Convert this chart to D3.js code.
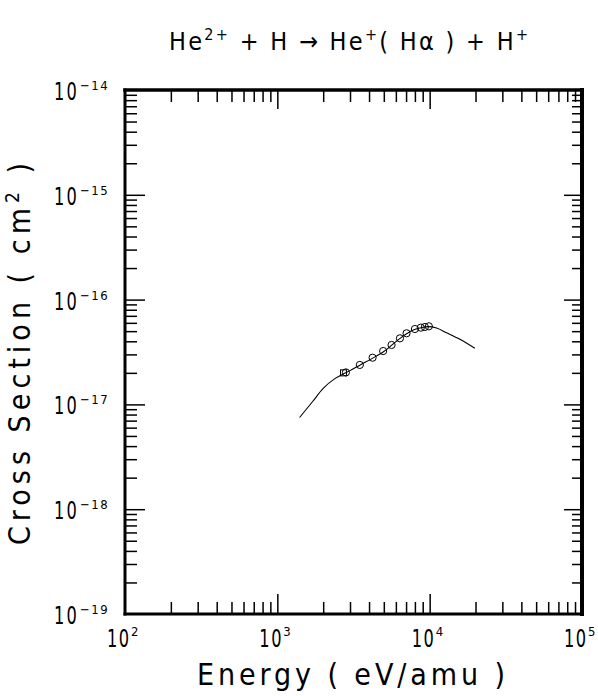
<!DOCTYPE html>
<html>
<head>
<meta charset="utf-8">
<script src="https://cdn.jsdelivr.net/npm/d3@7"></script>
<style>
  body { margin: 0; background: #fff; }
  text { font-family: "Liberation Sans Narrow", "DejaVu Sans Condensed", "Liberation Sans", sans-serif; fill: #000; }
</style>
</head>
<body>
<div id="chart"></div>
<script>
// fitted curve (energy in eV/amu, cross section in cm^2)
const curveEnergy = [1400, 1700, 2000, 2400, 2700, 3000, 3500, 4200, 5000, 6400, 7800, 8600, 9800, 11100, 12900, 15800, 19800];
const curveSigma = [7.5e-18, 1.06e-17, 1.42e-17, 1.77e-17, 1.95e-17, 2.1e-17, 2.38e-17, 2.75e-17, 3.2e-17, 4.27e-17, 5.13e-17, 5.35e-17, 5.52e-17, 5.35e-17, 4.83e-17, 4.18e-17, 3.43e-17];

// measured points (circles)
const pointEnergy = [2820, 3480, 4220, 4950, 5620, 6380, 7050, 8000, 8750, 9300, 9880];
const pointSigma = [2.02e-17, 2.38e-17, 2.79e-17, 3.23e-17, 3.69e-17, 4.27e-17, 4.77e-17, 5.24e-17, 5.40e-17, 5.48e-17, 5.56e-17];

// second data set (square)
const squareEnergy = [2720];
const squareSigma = [2.0e-17];

const xDecades = [2, 3, 4, 5];
const yDecades = [-14, -15, -16, -17, -18, -19];

const width = 598, height = 696;
const margin = { top: 90, right: 16, bottom: 82, left: 125 };

const svg = d3.select("#chart")
    .append("svg")
    .attr("width", width)
    .attr("height", height);

const x = d3.scaleLog()
    .domain([1e2, 1e5])
    .range([margin.left, width - margin.right]);

const y = d3.scaleLog()
    .domain([1e-19, 1e-14])
    .range([height - margin.bottom, margin.top]);

const [x0, x1] = x.range();
const [y0, y1] = [y(1e-14), y(1e-19)];

// tick values
const xMinor = [], yMinor = [];
for (let e = 2; e < 5; e++) for (let m = 2; m <= 9; m++) xMinor.push(m * Math.pow(10, e));
for (let e = -19; e < -14; e++) for (let m = 2; m <= 9; m++) yMinor.push(m * Math.pow(10, e));
const xMajor = [1e3, 1e4];
const yMajor = [1e-18, 1e-17, 1e-16, 1e-15];

const addTicks = (axis, values, size, transform) => {
    const g = svg.append("g")
        .attr("transform", transform)
        .call(axis.tickValues(values).tickSize(size).tickFormat(""));
    g.select(".domain").remove();
    g.selectAll(".tick line").attr("stroke", "#000").attr("stroke-width", 1.5);
};

// bottom (ticks up), top (ticks down)
addTicks(d3.axisBottom(x), xMinor, -12, `translate(0,${y1})`);
addTicks(d3.axisBottom(x), xMajor, -20, `translate(0,${y1})`);
addTicks(d3.axisTop(x), xMinor, -12, `translate(0,${y0})`);
addTicks(d3.axisTop(x), xMajor, -19, `translate(0,${y0})`);
// left (ticks right), right (ticks left)
addTicks(d3.axisLeft(y), yMinor, -12, `translate(${x0},0)`);
addTicks(d3.axisLeft(y), yMajor, -20, `translate(${x0},0)`);
addTicks(d3.axisRight(y), yMinor, -10, `translate(${x1},0)`);
addTicks(d3.axisRight(y), yMajor, -18, `translate(${x1},0)`);

// frame
const frame = svg.append("g").attr("stroke", "#000").attr("stroke-linecap", "square");
frame.append("line").attr("x1", x0).attr("x2", x1).attr("y1", y0).attr("y2", y0).attr("stroke-width", 3.5);
frame.append("line").attr("x1", x0).attr("x2", x1).attr("y1", y1).attr("y2", y1).attr("stroke-width", 3);
frame.append("line").attr("x1", x0).attr("x2", x0).attr("y1", y0).attr("y2", y1).attr("stroke-width", 3);
frame.append("line").attr("x1", x1).attr("x2", x1).attr("y1", y0).attr("y2", y1).attr("stroke-width", 4);

// x tick labels
xDecades.forEach(e => {
    const px = x(Math.pow(10, e));
    svg.append("text")
        .attr("x", px - 18).attr("y", y1 + 33)
        .attr("font-size", 24)
        .attr("letter-spacing", 2)
        .attr("transform", `translate(${px - 18},0) scale(0.75,1) translate(${-(px - 18)},0)`)
        .text("10");
    svg.append("text")
        .attr("x", px + 6).attr("y", y1 + 22)
        .attr("font-size", 13)
        .text(e);
});

// y tick labels
yDecades.forEach(e => {
    const py = y(Math.pow(10, e));
    svg.append("text")
        .attr("x", 54).attr("y", py + 10)
        .attr("font-size", 24)
        .attr("letter-spacing", 3)
        .attr("transform", "translate(54,0) scale(0.75,1) translate(-54,0)")
        .text("10");
    svg.append("text")
        .attr("x", 80).attr("y", py)
        .attr("font-size", 13)
        .attr("letter-spacing", 1.5)
        .text("\u2212" + Math.abs(e));
});

// title
const title = svg.append("text")
    .attr("x", 169).attr("y", 50)
    .attr("font-size", 25)
    .attr("textLength", 359).attr("lengthAdjust", "spacing");
title.append("tspan").text("He");
title.append("tspan").attr("dy", -10).attr("font-size", 16).text("2+");
title.append("tspan").attr("dy", 10).text(" + H \u2192 He");
title.append("tspan").attr("dy", -10).attr("font-size", 16).text("+");
title.append("tspan").attr("dy", 10).text("( H\u03b1 ) + H");
title.append("tspan").attr("dy", -10).attr("font-size", 16).text("+");

// x axis label
svg.append("text")
    .attr("x", 197).attr("y", 685)
    .attr("font-size", 30)
    .attr("textLength", 308).attr("lengthAdjust", "spacing")
    .text("Energy ( eV/amu )");

// y axis label
const ylab = svg.append("text")
    .attr("transform", "translate(30,545) rotate(-90)")
    .attr("font-size", 30)
    .attr("textLength", 382).attr("lengthAdjust", "spacing");
ylab.append("tspan").text("Cross Section ( cm");
ylab.append("tspan").attr("dy", -11).attr("font-size", 19).text("2");
ylab.append("tspan").attr("dy", 11).text(" )");

// curve
const curveData = curveEnergy.map((e, i) => ({ e, s: curveSigma[i] }));
const line = d3.line()
    .x(d => x(d.e))
    .y(d => y(d.s))
    .curve(d3.curveMonotoneX);

svg.append("path")
    .attr("d", line(curveData))
    .attr("fill", "none")
    .attr("stroke", "#000")
    .attr("stroke-width", 1.1);

// points
svg.selectAll("circle.pt")
    .data(pointEnergy.map((e, i) => ({ e, s: pointSigma[i] })))
    .join("circle")
    .attr("class", "pt")
    .attr("cx", d => x(d.e))
    .attr("cy", d => y(d.s))
    .attr("r", 3.6)
    .attr("fill", "none")
    .attr("stroke", "#000")
    .attr("stroke-width", 1);

svg.selectAll("rect.sq")
    .data(squareEnergy.map((e, i) => ({ e, s: squareSigma[i] })))
    .join("rect")
    .attr("class", "sq")
    .attr("x", d => x(d.e) - 3)
    .attr("y", d => y(d.s) - 3)
    .attr("width", 6)
    .attr("height", 6)
    .attr("fill", "none")
    .attr("stroke", "#000")
    .attr("stroke-width", 1);
</script>
</body>
</html>
